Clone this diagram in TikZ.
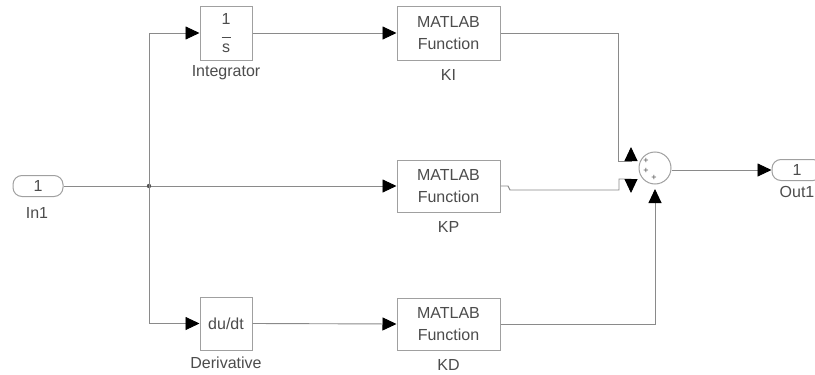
\documentclass[tikz,border=0pt]{standalone}
\usepackage{fontspec}
\setmainfont{Liberation Sans}
\usetikzlibrary{arrows.meta}
\definecolor{ln}{HTML}{8A8A8A}
\definecolor{bx}{HTML}{A0A0A0}
\definecolor{tx}{HTML}{4C4C4C}
\begin{document}
\begin{tikzpicture}[x=1pt,y=-1pt,
  txt/.style={text=tx,font=\fontsize{16}{22}\selectfont},
  blk/.style={txt,draw=bx,line width=1pt,fill=white,minimum width=52pt,minimum height=54pt,inner sep=0pt,align=center},
  fn/.style={blk,minimum width=103pt,minimum height=52pt},
  port/.style={txt,draw=bx,line width=1pt,rounded corners=9pt,minimum width=50pt,minimum height=21pt,inner sep=0pt},
  wire/.style={draw=ln,line width=0.9pt},
  arr/.style={wire,-{Triangle[length=14pt,width=13pt,color=black]}},
  pl/.style={text=tx,font=\fontsize{9}{9}\selectfont,inner sep=0pt}
]
\useasboundingbox (0,0) rectangle (815,375);
\clip (0,0) rectangle (815,375);
\fill[white] (0,0) rectangle (815,375);

% blocks
\node[port] (in1) at (38,186) {1};
\node[txt] (in1l) at (37,213) {In1};
\node[blk] (integ) at (226,33) {1\\[-9pt]{\color{tx}\rule{9pt}{0.6pt}}\\[-7pt]s};
\node[txt] (integl) at (226,73) {Integrator};
\node[blk,minimum height=53pt] (deriv) at (226,323.5) {du/dt};
\node[txt] (derivl) at (226,363) {Derivative};
\node[fn,minimum height=54pt] (ki) at (448.5,33) {MATLAB\\Function};
\node[txt] (kil) at (448.5,75) {KI};
\node[fn] (kp) at (448.5,186) {MATLAB\\Function};
\node[txt] (kpl) at (448.5,227) {KP};
\node[fn] (kd) at (448.5,324) {MATLAB\\Function};
\node[txt] (kdl) at (448.5,365) {KD};
\node[circle,draw=bx,line width=1pt,minimum size=32pt,inner sep=0pt] (sum) at (655,168) {};
\node[pl] (p1) at (646,161) {+};
\node[pl] (p2) at (646,171) {+};
\node[pl] (p3) at (654,178) {+};
\node[port] (out1) at (797,170) {1};
\node[txt] (out1l) at (797,192) {Out1};

% junction and ports
\coordinate (j) at (149,186);
\coordinate (s1) at (631,147);
\coordinate (s2) at (631,193);
\coordinate (s3) at (655,189);

% wires
\draw[arr] (in1.east) -- (kp.west);
\fill[ln!60!black] (j) circle (2.2pt);
\draw[arr] (j) |- (integ.west);
\draw[arr] (j) |- (deriv.west);
\draw[arr] (integ.east) -- (ki.west);
\draw[arr] (deriv.east) -- (kd.west);
\draw[arr] (ki.east) -| (618,161) -- (631,161) -- (s1);
\draw[arr] (kp.east) -- (508,186) -- (510,190) -- (619,190) |- (631,179) -- (s2);
\draw[arr] (kd.east) -| (s3);
\draw[arr] (sum.east |- out1.west) -- (out1.west);
\end{tikzpicture}
\end{document}
